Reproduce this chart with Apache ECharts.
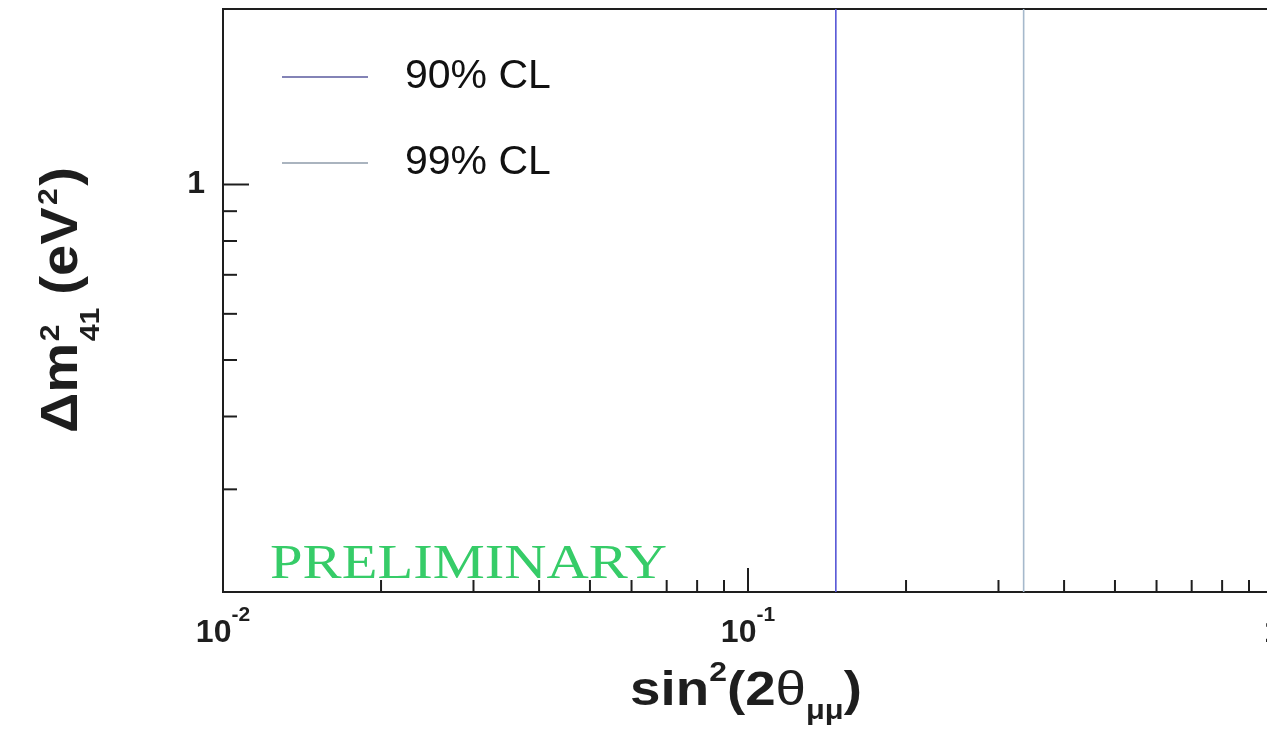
<!DOCTYPE html>
<html>
<head>
<meta charset="utf-8">
<script src="https://cdn.jsdelivr.net/npm/echarts@6/dist/echarts.min.js"></script>
<style>
  html, body { margin: 0; padding: 0; background: #fff; }
  #chart { width: 1267px; height: 733px; }
</style>
</head>
<body>
<div id="chart"></div>
<script>
// Axis ranges (both axes logarithmic)
const xRange = [0.01, 1];
const yRange = [0.2, 2];

// Confidence-level boundaries in sin^2(2θ) (vertical over the whole Δm² range)
const clNames = ['90% CL', '99% CL'];
const clSin2 = [0.147, 0.335];
const clColors = ['#5656d6', '#a6b9cc'];
const clLegendColors = ['#5a5a9e', '#8e9baa'];

// Tick positions
const xMajorTicks = [0.01, 0.1, 1];
const xMinorTicks = [0.02, 0.03, 0.04, 0.05, 0.06, 0.07, 0.08, 0.09,
                     0.2, 0.3, 0.4, 0.5, 0.6, 0.7, 0.8, 0.9];
const yMajorTicks = [1];
const yMinorTicks = [0.3, 0.4, 0.5, 0.6, 0.7, 0.8, 0.9];

const SANS = '"Liberation Sans", Arial, Helvetica, sans-serif';
const SERIF = '"Liberation Serif", "Times New Roman", serif';
const INK = '#1e1e1e';

function isPow10(v) {
  const l = Math.log10(v);
  return Math.abs(l - Math.round(l)) < 1e-6;
}

function powLabel(v) {
  if (!isPow10(v)) return '';
  const e = Math.round(Math.log10(v));
  if (e === 0) return '{b|1}';
  return '{b|10}{sup|' + e + '}';
}

// Ticks drawn inward from the frame, placed through the axis scales
function tickSeries(values, dir, len) {
  return {
    type: 'custom',
    silent: true,
    z: 6,
    data: values.map(v => dir === 'x' ? [v, yRange[0]] : [xRange[0], v]),
    renderItem: function (params, api) {
      const p = api.coord([api.value(0), api.value(1)]);
      const shape = dir === 'x'
        ? { x1: p[0], y1: p[1], x2: p[0], y2: p[1] - len }
        : { x1: p[0], y1: p[1], x2: p[0] + len, y2: p[1] };
      return { type: 'line', shape: shape, style: { stroke: INK, lineWidth: 2 } };
    }
  };
}

const clSeries = clNames.map((name, i) => ({
  name: name,
  type: 'line',
  symbol: 'none',
  clip: true,
  z: 3,
  lineStyle: { color: clColors[i], width: 1.6 },
  itemStyle: { color: clColors[i] },
  data: [[clSin2[i], yRange[0]], [clSin2[i], yRange[1]]]
}));

const chart = echarts.init(document.getElementById('chart'), null, { renderer: 'canvas' });

// Stacked super/subscript y-axis title, read bottom-to-top
const F = 52, FS = 28;
function seg(text, x, base, size, weight) {
  return {
    type: 'text',
    x: x,
    y: base - 0.35 * size,
    style: {
      text: text,
      font: (weight || 'bold') + ' ' + size + 'px ' + SANS,
      fill: INK,
      align: 'left',
      verticalAlign: 'middle'
    }
  };
}

chart.setOption({
  animation: false,
  backgroundColor: '#ffffff',
  grid: {
    left: 223, top: 9, right: -6, bottom: 141,
    show: true, borderColor: INK, borderWidth: 2,
    containLabel: false, outerBoundsMode: 'none'
  },
  legend: {
    data: clNames.map((n, i) => ({
      name: n,
      icon: 'rect',
      itemStyle: { color: clLegendColors[i] }
    })),
    orient: 'vertical',
    left: 282, top: 55,
    padding: 0,
    itemWidth: 86, itemHeight: 1.6, itemGap: 42,
    selectedMode: false,
    textStyle: {
      fontFamily: SANS, fontSize: 41, color: '#111', lineHeight: 44,
      padding: [0, 0, 0, 32]
    }
  },
  xAxis: {
    type: 'log', logBase: 10, min: xRange[0], max: xRange[1],
    axisLine: { show: true, lineStyle: { color: INK, width: 2 } },
    axisTick: { show: false },
    splitLine: { show: false },
    minorTick: { show: false },
    axisLabel: {
      margin: 13,
      formatter: powLabel,
      rich: {
        b: { fontFamily: SANS, fontSize: 32, fontWeight: 'bold', color: INK, lineHeight: 44, verticalAlign: 'bottom' },
        sup: { fontFamily: SANS, fontSize: 21, fontWeight: 'bold', color: INK, lineHeight: 21, verticalAlign: 'top' }
      }
    }
  },
  yAxis: {
    type: 'log', logBase: 10, min: yRange[0], max: yRange[1],
    axisLine: { show: true, lineStyle: { color: INK, width: 2 } },
    axisTick: { show: false },
    splitLine: { show: false },
    minorTick: { show: false },
    axisLabel: {
      margin: 18,
      formatter: v => (isPow10(v) && yMajorTicks.some(t => Math.abs(t - v) < 1e-9)) ? '{b|1}' : '',
      rich: {
        b: { fontFamily: SANS, fontSize: 32, fontWeight: 'bold', color: INK }
      }
    }
  },
  graphic: [
    {
      // y-axis title: Δm²₄₁ (eV²)
      type: 'group',
      x: 81, y: 433,
      rotation: Math.PI / 2,
      scaleX: 1.08,
      children: [
        seg('Δm', 0, 0, F),
        seg('2', 85, -20, FS),
        seg('41', 85, 20, FS),
        seg('(eV', 128, 0, F),
        seg('2', 211, -22, FS),
        seg(')', 229, 0, F)
      ]
    },
    {
      // x-axis title: sin²(2θμμ)
      type: 'text',
      x: 746, y: 659,
      scaleX: 1.14,
      style: {
        text: '{b|sin}{sup|2}{b|(2}{t|θ}{sub|μμ}{b|)}',
        align: 'center',
        verticalAlign: 'top',
        rich: {
          b: { fontFamily: SANS, fontSize: 48, fontWeight: 'bold', fill: INK, lineHeight: 66 },
          t: { fontFamily: SANS, fontSize: 48, fontWeight: 'normal', fill: INK, lineHeight: 66 },
          sup: { fontFamily: SANS, fontSize: 28, fontWeight: 'bold', fill: INK, lineHeight: 28, verticalAlign: 'top' },
          sub: { fontFamily: SANS, fontSize: 27, fontWeight: 'bold', fill: INK, lineHeight: 2, verticalAlign: 'bottom' }
        }
      }
    },
    {
      type: 'text',
      x: 270, y: 565,
      scaleX: 1.22,
      z: 10,
      style: {
        text: 'PRELIMINARY',
        font: 'normal 48px ' + SERIF,
        fill: '#36cc68',
        align: 'left',
        verticalAlign: 'middle'
      }
    }
  ],
  series: clSeries.concat([
    tickSeries(xMajorTicks, 'x', 24),
    tickSeries(xMinorTicks, 'x', 12),
    tickSeries(yMajorTicks, 'y', 26),
    tickSeries(yMinorTicks, 'y', 14)
  ])
});
</script>
</body>
</html>
